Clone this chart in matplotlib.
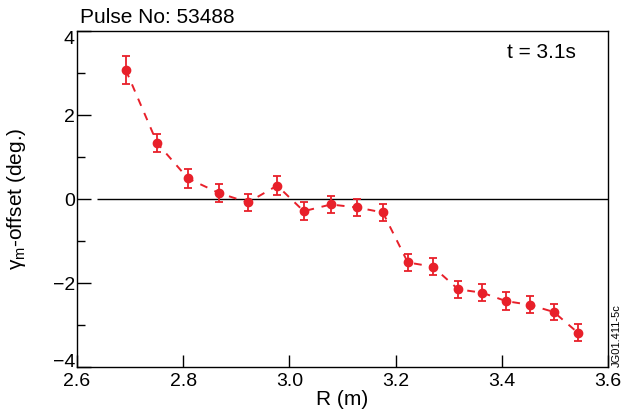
import matplotlib
matplotlib.use("Agg")
import matplotlib.pyplot as plt

plt.rcParams["font.family"] = ["Liberation Sans", "DejaVu Sans"]
plt.rcParams["mathtext.fontset"] = "custom"
plt.rcParams["mathtext.rm"] = "Liberation Sans"

# radius (m), offset (deg.) and error
R = [2.692, 2.751, 2.809, 2.868, 2.922, 2.977, 3.027, 3.078, 3.127,
     3.176, 3.223, 3.270, 3.318, 3.363, 3.408, 3.453, 3.498, 3.543]
OFFSET = [3.07, 1.33, 0.49, 0.14, -0.08, 0.32, -0.29, -0.13, -0.20,
          -0.32, -1.51, -1.61, -2.15, -2.23, -2.43, -2.52, -2.69, -3.18]
ERR = [0.34, 0.21, 0.23, 0.21, 0.21, 0.22, 0.21, 0.20, 0.20,
       0.20, 0.21, 0.20, 0.21, 0.20, 0.21, 0.20, 0.20, 0.21]

X_TICKS = [2.6, 2.8, 3.0, 3.2, 3.4, 3.6]
X_LABELS = ["2.6", "2.8", "3.0", "3.2", "3.4", "3.6"]
Y_TICKS = [-4, -2, 0, 2, 4]
Y_MINOR = [-3, -1, 1, 3]

RED = "#e8202a"

fig = plt.figure(figsize=(6.23, 4.19), dpi=100)
ax = fig.add_axes([0.1236, 0.124, 0.8523, 0.802])

ax.hlines(0, 2.638, 3.6, color="black", linewidth=1.0, zorder=1)
ax.errorbar(R, OFFSET, yerr=ERR, color=RED, ecolor=RED, fmt="o",
            markersize=6, linestyle=(0, (4, 4)), linewidth=1.4,
            elinewidth=1.3, capsize=3, capthick=1.3, zorder=3)

ax.set_xlim(2.6, 3.6)
ax.set_ylim(-4, 4)
ax.set_xticks(X_TICKS)
ax.set_xticklabels(X_LABELS)
ax.set_yticks(Y_TICKS)
ax.set_yticks(Y_MINOR, minor=True)
ax.tick_params(axis="both", which="major", direction="in", labelsize=14,
               width=1.0)
ax.tick_params(axis="x", which="major", length=9, pad=4)
ax.tick_params(axis="y", which="major", length=10, pad=1.5)
ax.tick_params(axis="y", which="minor", direction="in", length=6, width=1.0)
for sp in ax.spines.values():
    sp.set_linewidth(1.0)

# keep the end labels inside the frame height
ylabels = ax.get_yticklabels()
ylabels[0].set_va("baseline")
ylabels[-1].set_va("top")

ax.set_xlabel("R (m)", fontsize=15, labelpad=0)
ax.set_ylabel("γ$_{\\mathrm{m}}$-offset (deg.)", fontsize=15)
ax.yaxis.set_label_coords(-0.092, 0.5)

ax.text(0.006, 1.012, "Pulse No: 53488", transform=ax.transAxes,
        fontsize=15, ha="left", va="bottom")
ax.text(0.874, 0.9375, "t = 3.1s", transform=ax.transAxes,
        fontsize=15, ha="center", va="center")
fig.text(0.99, 0.125, "JG01.411-5c", rotation=90, fontsize=8,
         ha="center", va="bottom")

fig.savefig("out.png", dpi=100)
